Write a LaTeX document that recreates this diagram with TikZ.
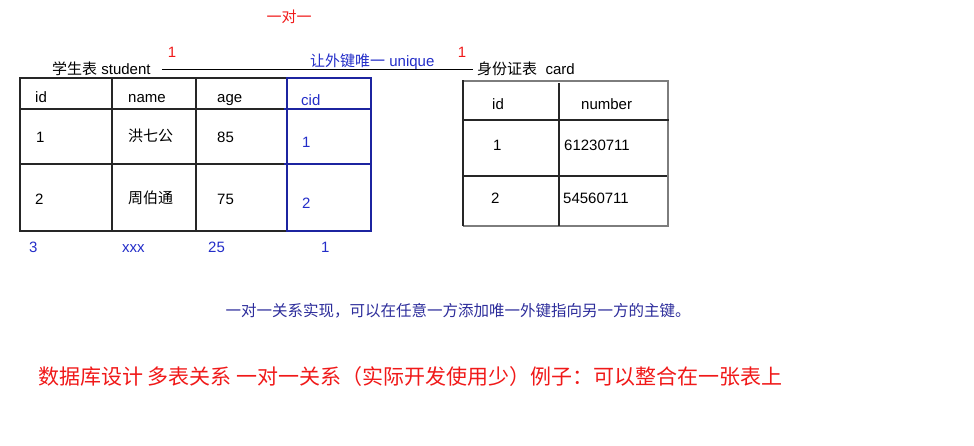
\documentclass[tikz,border=0pt]{standalone}
\usepackage{fontspec}
\setmainfont{Liberation Sans}
\newfontfamily\cjk{Noto Sans CJK SC}
\usepackage{xcolor}
\usetikzlibrary{positioning}

\definecolor{keyblue}{RGB}{35,45,200}
\definecolor{noteblue}{RGB}{45,45,155}
\definecolor{markred}{RGB}{240,25,25}
\definecolor{cardgray}{RGB}{125,125,125}

\begin{document}
\begin{tikzpicture}[
			x=1pt, y=-1pt,
			cell/.style={inner sep=0, anchor=west, text height=10.7pt, text depth=0pt, font=\fontsize{15}{18}\selectfont},
			label/.style={inner sep=0, anchor=base west, font=\fontsize{15}{18}\selectfont},
			grid/.style={line width=1.3pt, black!85},
			keygrid/.style={line width=1.3pt, keyblue!80!black},
			redmark/.style={inner sep=0, text=markred, font=\fontsize{15}{18}\selectfont}
		]
		\useasboundingbox (0,0) rectangle (974,446);

		% Titles
		\node[redmark, font=\fontsize{15}{18}\selectfont\cjk] (relation) at (289,17) {一对一};
		\node[redmark] (onestu) at (172,52) {1};
		\node[redmark] (onecard) at (462,52) {1};
		\node[label] (student) at (52,75) {{\cjk 学生表} student};
		\node[label] (card) at (477,75) {{\cjk 身份证表}\ \ card};
		\node[label, text=keyblue] (unique) at (310,67) {{\cjk 让外键唯一} unique};

		% Link Line
		\draw[line width=0.9pt] ([xshift=11pt, yshift=6pt]student.base east) -- ([xshift=-4pt, yshift=6pt]card.base west);

		% Student Table
		\draw[grid] (20,78) rectangle (287,231);
		\draw[grid] (20,109) -- (287,109);
		\draw[grid] (20,164) -- (287,164);
		\draw[grid] (112,78) -- (112,231);
		\draw[grid] (196,78) -- (196,231);
		\draw[keygrid] (287,78) rectangle (371,231);
		\draw[keygrid] (284,109) -- (372,109);
		\draw[keygrid] (284,164) -- (370,164);

		\node[cell] (sid) at (35,97) {id};
		\node[cell] (sname) at (128,97) {name};
		\node[cell] (sage) at (217,97) {age};
		\node[cell, text=keyblue] (scid) at (301,100) {cid};
		\node[cell] (sidone) at (36,137) {1};
		\node[cell, font=\fontsize{15}{18}\selectfont\cjk] (snameone) at (128,136) {洪七公};
		\node[cell] (sageone) at (217,137) {85};
		\node[cell, text=keyblue] (scidone) at (302,142) {1};
		\node[cell] (sidtwo) at (35,199) {2};
		\node[cell, font=\fontsize{15}{18}\selectfont\cjk] (snametwo) at (128,198) {周伯通};
		\node[cell] (sagetwo) at (217,199) {75};
		\node[cell, text=keyblue] (scidtwo) at (302,203) {2};

		% Extra Row
		\node[cell, text=keyblue] (xid) at (29,247) {3};
		\node[cell, text=keyblue] (xname) at (122,247) {xxx};
		\node[cell, text=keyblue] (xage) at (208,247) {25};
		\node[cell, text=keyblue] (xcid) at (321,247) {1};

		% Card Table
		\draw[line width=1.3pt, cardgray] (463,81) -- (668,81) -- (668,226) -- (463,226);
		\draw[grid] (463,80.5) -- (463,226.5);
		\draw[grid] (462,120) -- (669,120);
		\draw[grid] (463,176) -- (667,176);
		\draw[grid] (559,83) -- (559,226);

		\node[cell] (cid) at (492,104) {id};
		\node[cell] (cnumber) at (581,104) {number};
		\node[cell] (cidone) at (493,145) {1};
		\node[cell] (cnumberone) at (564,145) {61230711};
		\node[cell] (cidtwo) at (491,198) {2};
		\node[cell] (cnumbertwo) at (563,198) {54560711};

		% Notes
		\node[inner sep=0, text=noteblue, font=\fontsize{15.5}{18}\selectfont\cjk] (note) at (458,311) {一对一关系实现，可以在任意一方添加唯一外键指向另一方的主键。};
		\node[inner sep=0, anchor=west, text=markred, font=\fontsize{21}{24}\selectfont\cjk] (summary) at (38,377) {数据库设计 多表关系 一对一关系（实际开发使用少）例子：可以整合在一张表上};

		\end{tikzpicture}
\end{document}
